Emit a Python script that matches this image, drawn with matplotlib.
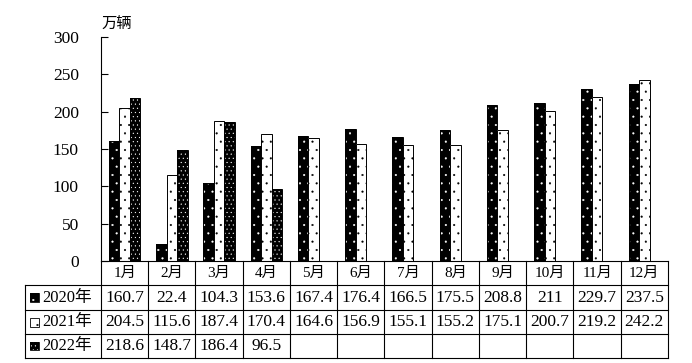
import matplotlib
matplotlib.use("Agg")
import matplotlib.pyplot as plt
import matplotlib.transforms as mtransforms
from matplotlib.patches import Rectangle

plt.rcParams['font.family'] = ['Liberation Serif', 'Noto Sans CJK SC', 'DejaVu Sans']
plt.rcParams['hatch.linewidth'] = 0.3

months = ['1月', '2月', '3月', '4月', '5月', '6月', '7月', '8月', '9月', '10月', '11月', '12月']
series = ['2020年', '2021年', '2022年']
v2020 = [160.7, 22.4, 104.3, 153.6, 167.4, 176.4, 166.5, 175.5, 208.8, 211, 229.7, 237.5]
v2021 = [204.5, 115.6, 187.4, 170.4, 164.6, 156.9, 155.1, 155.2, 175.1, 200.7, 219.2, 242.2]
v2022 = [218.6, 148.7, 186.4, 96.5]
labels2020 = ['160.7', '22.4', '104.3', '153.6', '167.4', '176.4', '166.5', '175.5', '208.8', '211', '229.7', '237.5']
labels2021 = ['204.5', '115.6', '187.4', '170.4', '164.6', '156.9', '155.1', '155.2', '175.1', '200.7', '219.2', '242.2']
labels2022 = ['218.6', '148.7', '186.4', '96.5']
yticks = [0, 50, 100, 150, 200, 250, 300]

# face colour, hatch colour, hatch
styles = [('black', 'white', '..'), ('white', 'black', '..'), ('black', 'white', '....')]
all_vals = [v2020, v2021, v2022]
all_labels = [labels2020, labels2021, labels2022]

fig = plt.figure(figsize=(6.92, 3.63), dpi=100)
ax = fig.add_axes([101 / 692, 1 - 261 / 363, 567 / 692, 224 / 363])

w = 0.222
for k, vals in enumerate(all_vals):
    fc, hc, hatch = styles[k]
    xs = [i + (k - 1) * w for i in range(len(vals))]
    ax.bar(xs, vals, w, color=fc, edgecolor=hc, hatch=hatch, linewidth=0)
    ax.bar(xs, vals, w, fill=False, edgecolor='black', linewidth=0.7)

ax.set_xlim(-0.5, 11.5)
ax.set_ylim(0, 300)
ax.set_yticks(yticks)
ax.set_xticks([])
ax.tick_params(axis='y', direction='in', length=5, width=0.8, pad=16, labelsize=12.5)
for s in ['top', 'right']:
    ax.spines[s].set_visible(False)
ax.spines['left'].set_linewidth(0.8)
ax.spines['bottom'].set_linewidth(0.8)

ax.text(-0.5, 1.055, '万辆', transform=mtransforms.blended_transform_factory(ax.transData, ax.transAxes),
        ha='left', va='center', fontsize=11)

# data table under the axis
tr = mtransforms.blended_transform_factory(ax.transData, ax.transAxes)
rows_y = [0, -0.107, -0.219, -0.326, -0.433]
left = -0.5 - 76 / 47.25
lw = 0.8
ax.plot([-0.5, -0.5], [0, rows_y[-1]], color='black', lw=lw, transform=tr, clip_on=False)
for i in range(12):
    ax.plot([i + 0.5, i + 0.5], [0, rows_y[-1]], color='black', lw=lw, transform=tr, clip_on=False)
ax.plot([left, left], [rows_y[1], rows_y[-1]], color='black', lw=lw, transform=tr, clip_on=False)
for y in rows_y[1:]:
    ax.plot([left, 11.5], [y, y], color='black', lw=lw, transform=tr, clip_on=False)

for i, m in enumerate(months):
    ax.text(i, (rows_y[0] + rows_y[1]) / 2, m, transform=tr, ha='center', va='center', fontsize=11)

for k, labs in enumerate(all_labels):
    yc = (rows_y[k + 1] + rows_y[k + 2]) / 2
    fc, hc, hatch = styles[k]
    ax.add_patch(Rectangle((left + 0.11, yc - 0.02), 0.19, 0.04, transform=tr, clip_on=False,
                           facecolor=fc, edgecolor=hc, hatch=hatch, linewidth=0))
    ax.add_patch(Rectangle((left + 0.11, yc - 0.02), 0.19, 0.04, transform=tr, clip_on=False,
                           fill=False, edgecolor='black', linewidth=0.6))
    ax.text(left + 0.37, yc, series[k], transform=tr, ha='left', va='center', fontsize=12)
    for i, t in enumerate(labs):
        ax.text(i, yc, t, transform=tr, ha='center', va='center', fontsize=12.5)

fig.savefig('out.png', dpi=100)
